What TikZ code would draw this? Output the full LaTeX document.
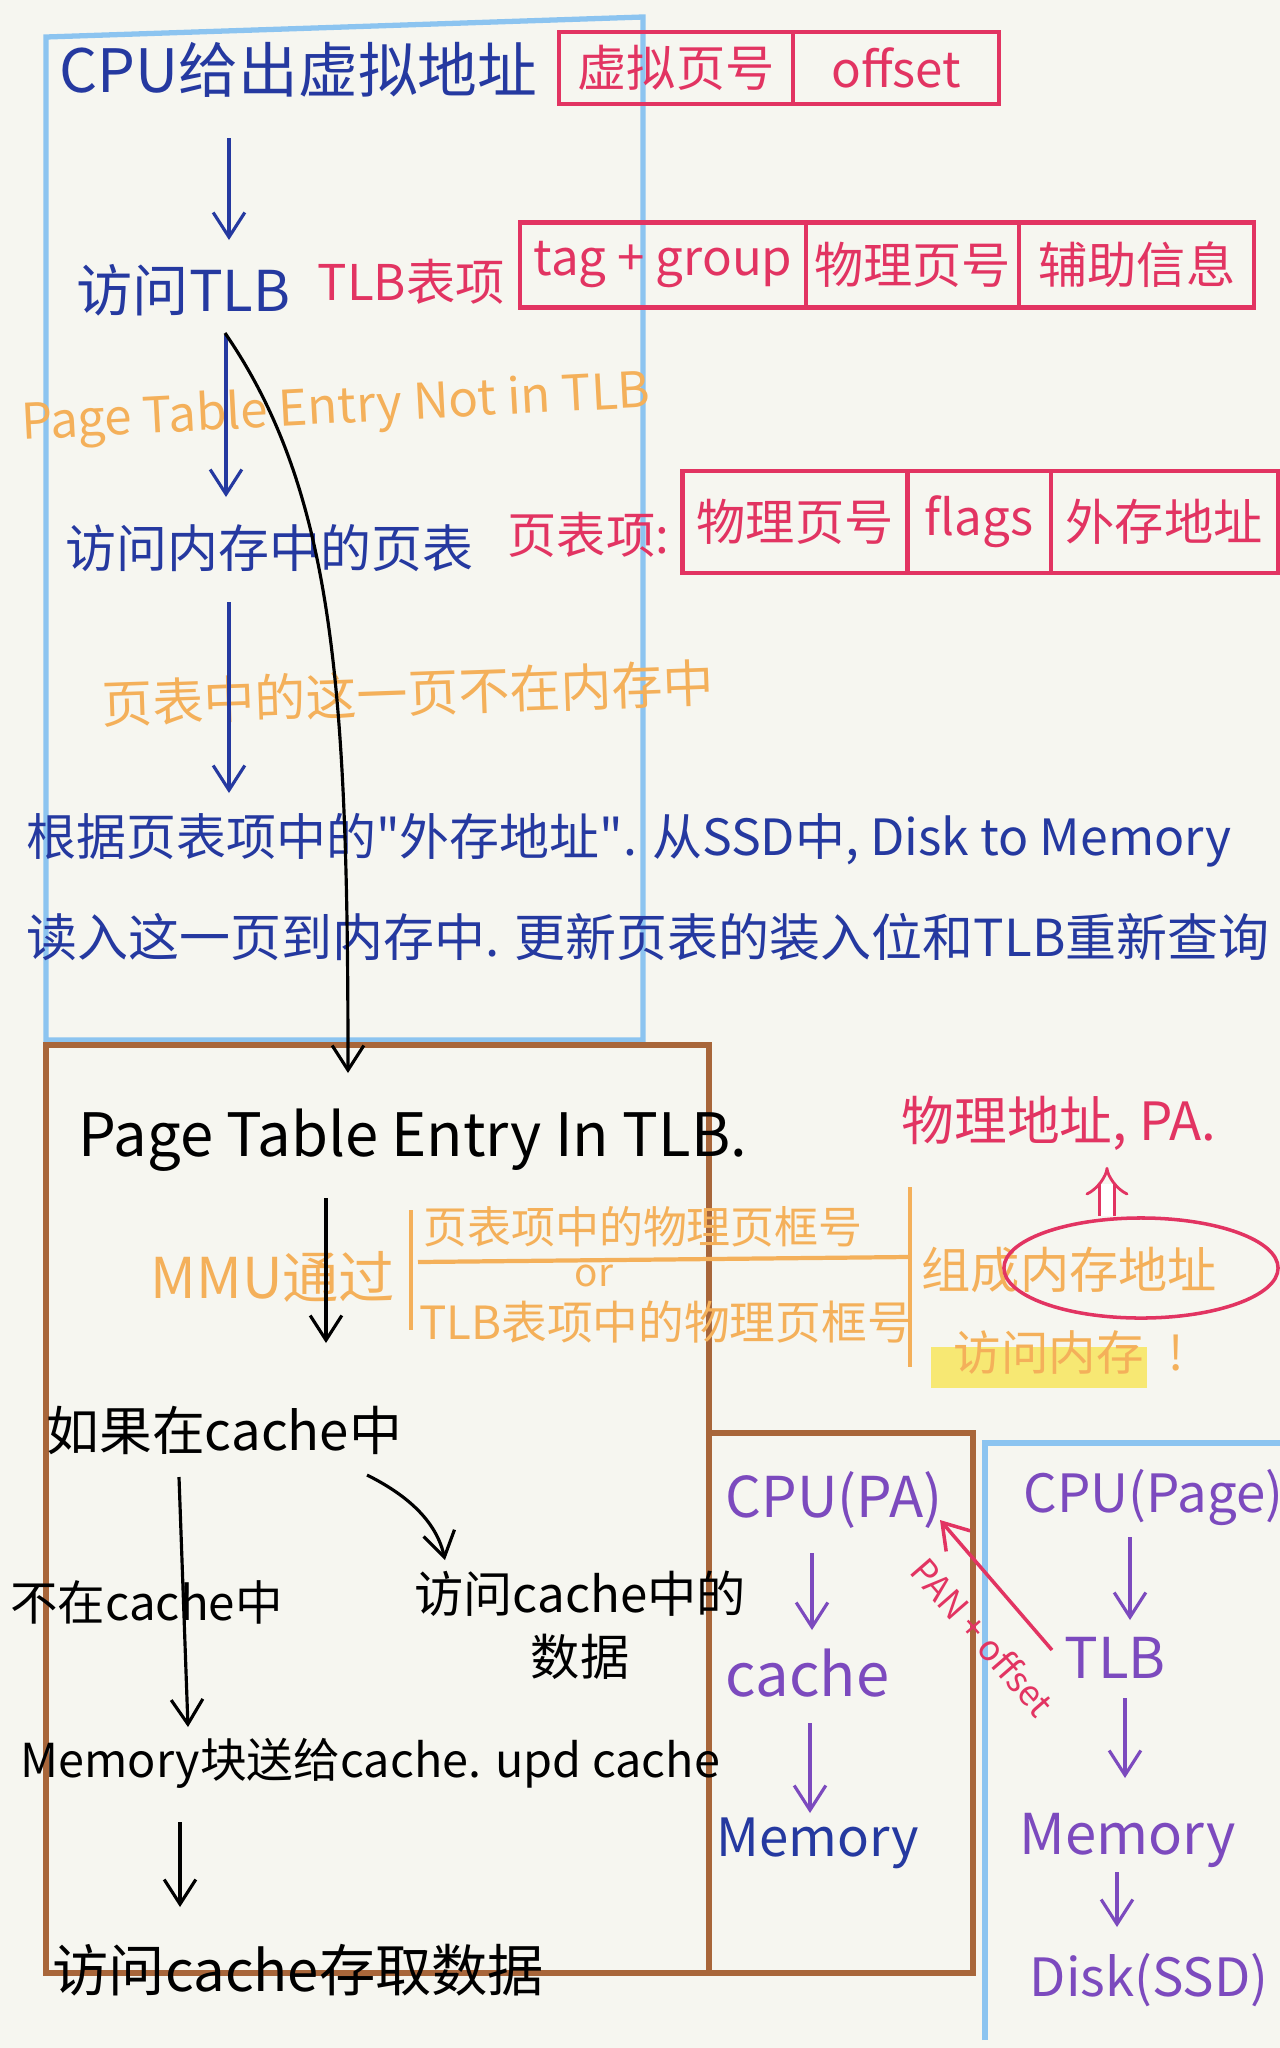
\documentclass[tikz,border=0pt]{standalone}
\usepackage{fontspec}
\setmainfont{Noto Sans CJK SC}
\newfontfamily\rawfont{Noto Sans CJK SC}
\usetikzlibrary{positioning,arrows.meta,shapes.geometric}
\definecolor{paper}{RGB}{246,246,240}
\definecolor{ink}{RGB}{37,57,160}
\definecolor{pinkred}{RGB}{226,52,98}
\definecolor{peach}{RGB}{244,176,90}
\definecolor{grape}{RGB}{124,74,190}
\definecolor{sky}{RGB}{140,196,240}
\definecolor{rust}{RGB}{168,102,58}
\definecolor{hilite}{RGB}{247,232,115}
\newcommand{\dq}{{\rawfont"}}
\begin{document}
\begin{tikzpicture}[x=0.01cm, y=-0.01cm,
  hand/.style={font=\fontsize{#1}{#1}\selectfont, inner sep=0pt, anchor=west},
  mid/.style={font=\fontsize{#1}{#1}\selectfont, inner sep=0pt, anchor=center},
  cell/.style={draw=pinkred, line width=1.2pt, text=pinkred, inner sep=0pt, outer sep=0pt,
    font=\fontsize{14}{14}\selectfont},
  tip/.style={-{Straight Barb[length=7pt, width=9pt]}},
  inkarr/.style={tip, ink, line width=0.9pt},
  blackarr/.style={tip, black, line width=0.9pt},
  grapearr/.style={tip, grape, line width=0.9pt},
  frame/.style={line width=1.5pt}]
  \fill[paper] (0,0) rectangle (1280,2048);
  \useasboundingbox (0,0) rectangle (1280,2048);

  \draw[frame, sky] (46,1040) -- (46,37) -- (643,17) -- (643,1040) -- cycle;
  \draw[frame, rust] (46,1045) rectangle (709,1973);
  \draw[frame, rust] (709,1433) rectangle (973,1973);
  \draw[frame, sky] (985,2040) -- (985,1443) -- (1280,1443);

  \node[hand=17, text=ink] (cpu) at (59,70) {CPU给出虚拟地址};
  \node[cell, minimum width=2.34cm, minimum height=0.72cm] (vpn) at (676,68) {虚拟页号};
  \node[cell, minimum width=2.06cm, minimum height=0.72cm, right=0pt of vpn] (off) {offset};

  \node[hand=16, text=ink] (tlb) at (76,290) {访问TLB};
  \node[hand=14, text=pinkred] (tlbitem) at (317,282) {TLB表项};
  \node[cell, minimum width=2.86cm, minimum height=0.85cm] (tagg) at (663,265) {tag + group};
  \node[cell, minimum width=2.13cm, minimum height=0.85cm, right=0pt of tagg] (phys) {物理页号};
  \node[cell, minimum width=2.35cm, minimum height=0.85cm, right=0pt of phys] (aux) {辅助信息};

  \node[mid=14, text=peach, rotate=3] (notin) at (336,410) {Page Table Entry Not in TLB};

  \node[hand=14.5, text=ink] (pt) at (65,548) {访问内存中的页表};
  \node[hand=14, text=pinkred] (pte) at (507,535) {页表项:};
  \node[cell, minimum width=2.25cm, minimum height=1.02cm] (ppn) at (795,522) {物理页号};
  \node[cell, minimum width=1.43cm, minimum height=1.02cm, right=0pt of ppn] (flg) {flags};
  \node[cell, minimum width=2.27cm, minimum height=1.02cm, right=0pt of flg] (ext) {外存地址};

  \node[mid=14.5, text=peach, rotate=2] (miss) at (408,693) {页表中的这一页不在内存中};
  \node[hand=14.2, text=ink] (load1) at (26,840) {根据页表项中的\dq 外存地址\dq. 从SSD中, Disk to Memory};
  \node[hand=14.5, text=ink] (load2) at (26,937) {读入这一页到内存中. 更新页表的装入位和TLB重新查询};

  \draw[inkarr] ([shift={(170,68)}]cpu.west) -- ([shift={(153,-50)}]tlb.west);
  \draw[inkarr] ([shift={(150,45)}]tlb.west) -- ([shift={(161,-51)}]pt.west);
  \draw[inkarr] ([shift={(164,54)}]pt.west) -- ([shift={(203,-47)}]load1.west);

  \node[hand=17] (intlb) at (78,1140) {Page Table Entry In TLB.};
  \draw[blackarr] ([shift={(149,43)}]tlb.west) .. controls +(110,160) and +(0,-380) .. ([shift={(270,-67)}]intlb.west);

  \node[hand=16, text=peach] (mmu) at (150,1277) {MMU通过};
  \node[mid=12.5, text=peach] (opt1) at (643,1227) {页表项中的物理页框号};
  \node[mid=11, text=peach] (orword) at (594,1276) {or};
  \node[mid=13, text=peach] (opt2) at (666,1322) {TLB表项中的物理页框号};
  \draw[peach, line width=1pt] (411,1210) -- (411,1330);
  \draw[peach, line width=1.2pt] (418,1262) -- (908,1257);
  \draw[peach, line width=1pt] (910,1187) -- (910,1367);
  \node[hand=14, text=peach] (compose) at (921,1270) {组成内存地址};
  \node[draw=pinkred, line width=1pt, ellipse, minimum width=2.74cm, minimum height=1.0cm] (circ) at (1141,1268) {};
  \node[hand=15, text=pinkred] (pa) at (901,1123) {物理地址, PA.};
  \draw[pinkred, line width=0.8pt, double, double distance=3.5pt, -{Implies}, shorten >=0.16cm]
    ([xshift=-0.34cm]circ.north) -- ([xshift=-0.34cm]circ.north |- pa.south);
  \fill[hilite] (931,1347) rectangle (1147,1388);
  \node[hand=13.5, text=peach] (memacc) at (953,1352) {访问内存\hspace{0.25cm}!};

  \node[hand=15] (ifcache) at (46,1430) {如果在cache中};
  \node[hand=13.3] (memblk) at (20,1763) {Memory块送给cache. upd cache};
  \node[mid=14, align=center] (accdata) at (580,1625) {访问cache中的\\[4pt]数据};
  \node[hand=16] (accstore) at (52,1970) {访问cache存取数据};
  \draw[blackarr] ([shift={(248,58)}]intlb.west) -- ([shift={(280,-87)}]ifcache.west);
  \draw[blackarr] ([shift={(133,47)}]ifcache.west) -- ([shift={(168,-36)}]memblk.west)
    node[mid=13.5, pos=0.5, xshift=-0.37cm] (notcached) {不在cache中};
  \draw[blackarr] ([shift={(321,45)}]ifcache.west) .. controls +(30,15) and +(-10,-45) .. ([shift={(-135,-65)}]accdata.center);
  \draw[blackarr] ([shift={(160,59)}]memblk.west) -- ([shift={(128,-63)}]accstore.west);

  \node[hand=16, text=grape] (cpupa) at (725,1500) {CPU(PA)};
  \node[hand=17, text=grape] (cachep) at (725,1673) {cache};
  \node[hand=15, text=ink] (memp) at (716,1843) {Memory};
  \draw[grapearr] ([shift={(87,53)}]cpupa.west) -- ([shift={(87,-43)}]cachep.west);
  \draw[grapearr] ([shift={(85,50)}]cachep.west) -- ([shift={(94,-30)}]memp.west);

  \node[hand=15, text=grape] (cpupg) at (1023,1497) {CPU(Page)};
  \node[hand=16, text=grape] (tlbp) at (1064,1658) {TLB};
  \node[hand=16, text=grape] (memq) at (1019,1840) {Memory};
  \node[hand=15, text=grape] (disk) at (1029,1980) {Disk(SSD)};
  \draw[grapearr] ([shift={(107,40)}]cpupg.west) -- ([shift={(66,-38)}]tlbp.west);
  \draw[grapearr] ([shift={(61,40)}]tlbp.west) -- ([shift={(106,-62)}]memq.west);
  \draw[grapearr] ([shift={(98,32)}]memq.west) -- ([shift={(88,-53)}]disk.west);
  \draw[tip, pinkred, line width=1pt] ([shift={(-12,-8)}]tlbp.west) -- ([shift={(215,20)}]cpupa.west)
    node[mid=10, text=pinkred, pos=0.32, xshift=-0.33cm, yshift=-0.28cm, rotate=-49] (paoff) {PAN + offset};
\end{tikzpicture}
\end{document}
